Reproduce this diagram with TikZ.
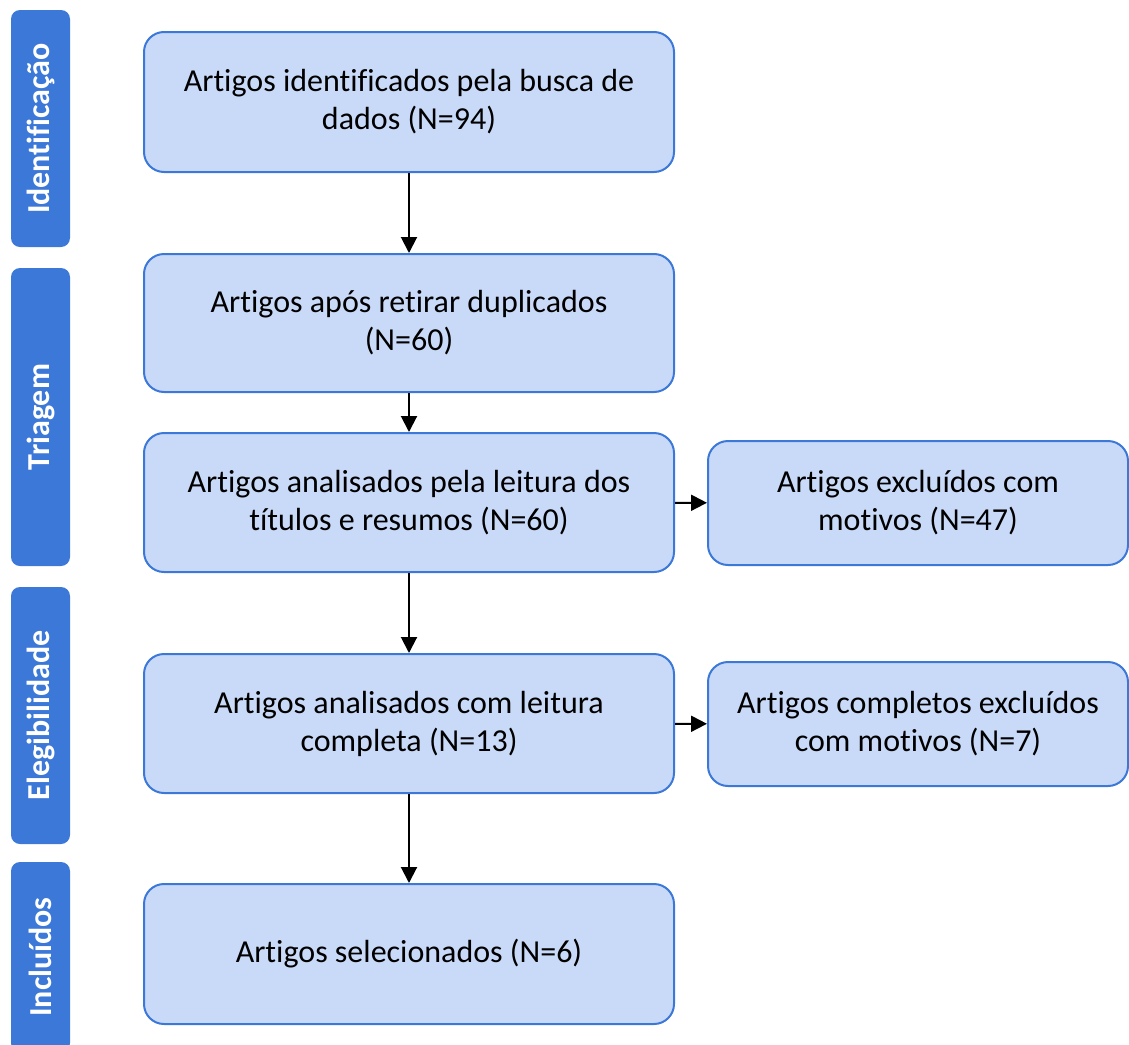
\documentclass[tikz,border=0pt]{standalone}
\usepackage{fontspec}
\setmainfont[Ligatures=NoCommon]{Carlito}
\usetikzlibrary{arrows.meta}
\definecolor{boxfill}{HTML}{C9DAF8}
\definecolor{boxline}{HTML}{3C78D8}
\begin{document}
\begin{tikzpicture}[x=1pt,y=-1pt,
  etapa/.style={draw=boxline, fill=boxfill, line width=2pt, rounded corners=20pt,
    align=center, font=\fontsize{32}{38}\selectfont, inner sep=0pt},
  fase/.style={fill=boxline, rounded corners=9pt, rotate=90, minimum height=59pt,
    text=white, font=\fontsize{32}{36}\selectfont\bfseries, inner sep=0pt},
  seta/.style={line width=2pt, -{Triangle[width=16pt,length=16pt]}}]
\useasboundingbox (0,0) rectangle (1129,1044);
% fases a esquerda
\node[fase, minimum width=237pt] (ident) at (40.5,128.5) {Identificação};
\node[fase, minimum width=298pt] (triag) at (40.5,417) {Triagem};
\node[fase, minimum width=257pt] (elegib) at (40.5,715.5) {Elegibilidade};
\node[fase, minimum width=190pt] (incl) at (40.5,957) {Incluídos};
% caixas principais
\node[etapa, minimum width=530pt, minimum height=140pt] (busca) at (409,102) {Artigos identificados pela busca de\\dados (N=94)};
\node[etapa, minimum width=530pt, minimum height=138pt] (dupl) at (409,323) {Artigos após retirar duplicados\\(N=60)};
\node[etapa, minimum width=530pt, minimum height=139pt] (titulos) at (409,502.5) {Artigos analisados pela leitura dos\\títulos e resumos (N=60)};
\node[etapa, minimum width=530pt, minimum height=139pt] (leitura) at (409,723.5) {Artigos analisados com leitura\\completa (N=13)};
\node[etapa, minimum width=530pt, minimum height=140pt] (selec) at (409,954) {Artigos selecionados (N=6)};
% exclusoes
\node[etapa, minimum width=420pt, minimum height=124pt] (excl) at (918,503) {Artigos excluídos com\\motivos (N=47)};
\node[etapa, minimum width=420pt, minimum height=124pt] (exclcomp) at (918,724) {Artigos completos excluídos\\com motivos (N=7)};
% setas
\draw[seta] (busca) -- (dupl);
\draw[seta] (dupl) -- (titulos);
\draw[seta] (titulos) -- (leitura);
\draw[seta] (leitura) -- (selec);
\draw[seta] (titulos) -- (excl);
\draw[seta] (leitura) -- (exclcomp);
\end{tikzpicture}
\end{document}
